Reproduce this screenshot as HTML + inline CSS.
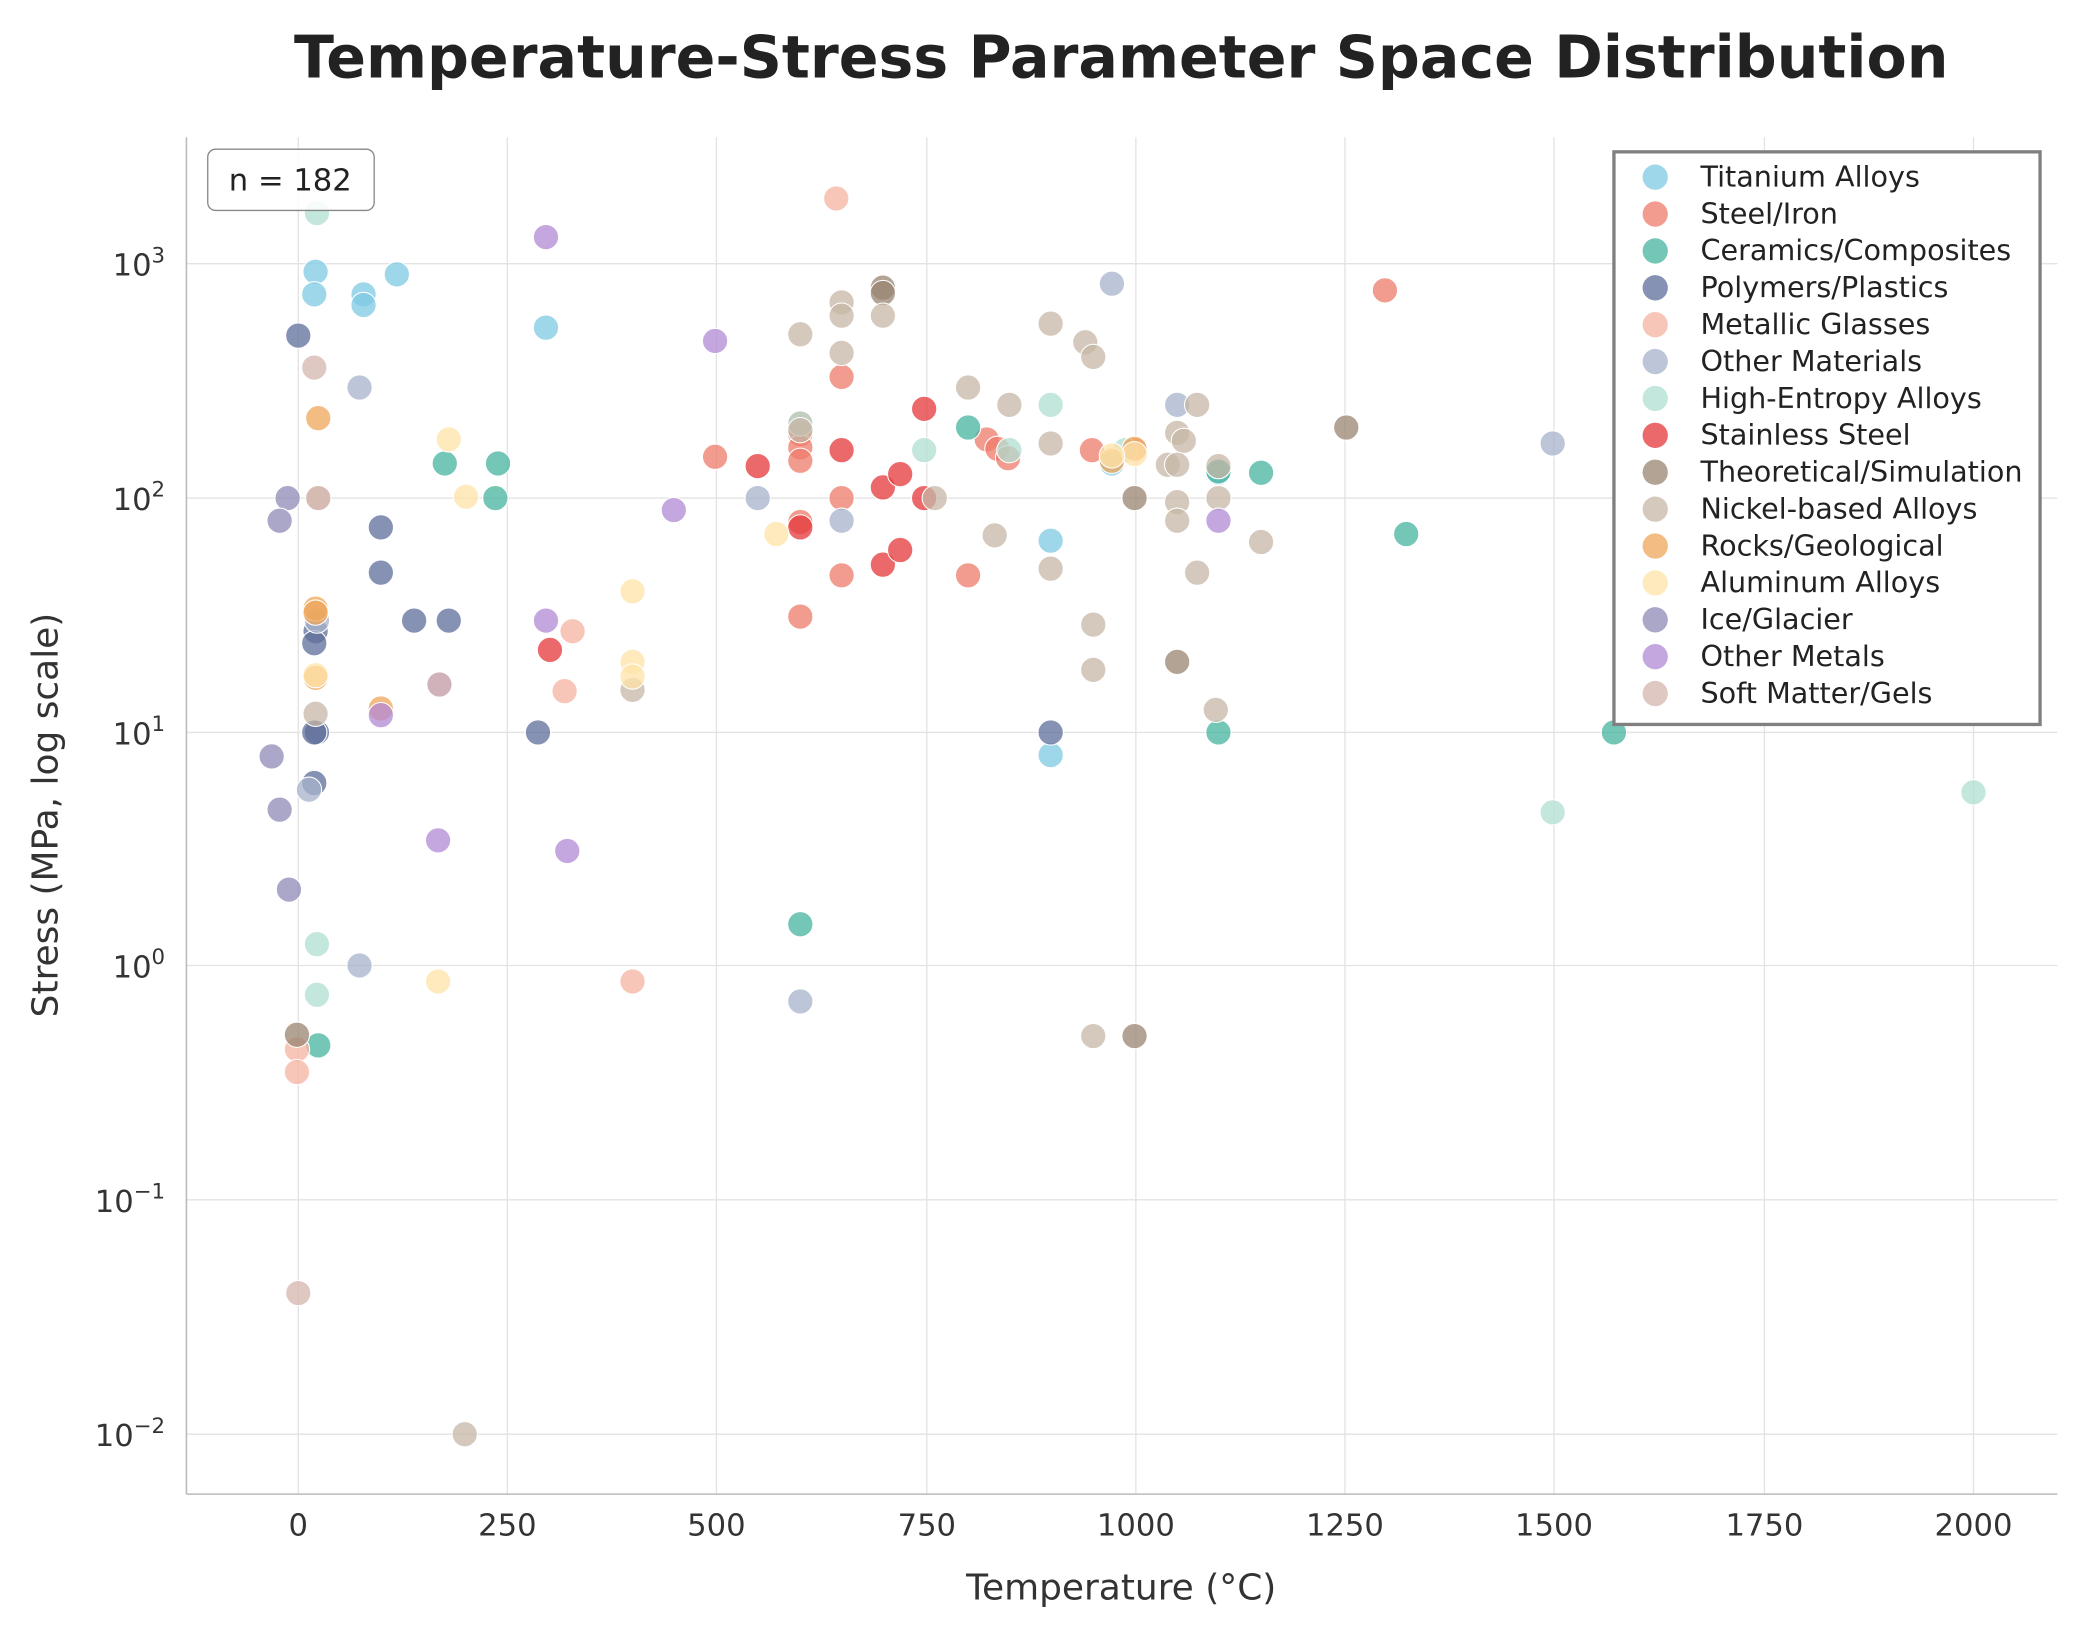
<!DOCTYPE html>
<html><head><meta charset="utf-8"><style>
html,body{margin:0;padding:0;background:#fff;}
svg{display:block;font-family:"DejaVu Sans","Liberation Sans",sans-serif;}
</style></head><body>
<svg id="s" width="2088" height="1638" viewBox="0 0 1568 1230" xmlns="http://www.w3.org/2000/svg">
<rect width="1568" height="1230" fill="#fff"/>
<g stroke="#e3e3e3" stroke-width="1">
<line x1="224" y1="103" x2="224" y2="1122"/><line x1="381" y1="103" x2="381" y2="1122"/><line x1="538" y1="103" x2="538" y2="1122"/><line x1="696" y1="103" x2="696" y2="1122"/><line x1="853" y1="103" x2="853" y2="1122"/><line x1="1010" y1="103" x2="1010" y2="1122"/><line x1="1167" y1="103" x2="1167" y2="1122"/><line x1="1325" y1="103" x2="1325" y2="1122"/><line x1="1482" y1="103" x2="1482" y2="1122"/>
<line x1="140" y1="198" x2="1545" y2="198"/><line x1="140" y1="374" x2="1545" y2="374"/><line x1="140" y1="550" x2="1545" y2="550"/><line x1="140" y1="725" x2="1545" y2="725"/><line x1="140" y1="901" x2="1545" y2="901"/><line x1="140" y1="1077" x2="1545" y2="1077"/>
</g>
<line x1="140" y1="103" x2="140" y2="1122" stroke="#bbb" stroke-width="1.2"/>
<line x1="140" y1="1122" x2="1545" y2="1122" stroke="#bbb" stroke-width="1.2"/>
<g id="pts"></g>
<text x="842" y="58" text-anchor="middle" font-size="44" font-weight="bold" fill="#222">Temperature-Stress Parameter Space Distribution</text>
<g font-size="23" fill="#333" text-anchor="middle">
<text x="224" y="1153">0</text><text x="381" y="1153">250</text><text x="538" y="1153">500</text><text x="696" y="1153">750</text><text x="853" y="1153">1000</text><text x="1010" y="1153">1250</text><text x="1167" y="1153">1500</text><text x="1325" y="1153">1750</text><text x="1482" y="1153">2000</text>
</g>
<g font-size="23" fill="#333" text-anchor="end">
<text x="124" y="207">10<tspan dy="-10" font-size="16">3</tspan></text>
<text x="124" y="383">10<tspan dy="-10" font-size="16">2</tspan></text>
<text x="124" y="559">10<tspan dy="-10" font-size="16">1</tspan></text>
<text x="124" y="734">10<tspan dy="-10" font-size="16">0</tspan></text>
<text x="124" y="910">10<tspan dy="-10" font-size="16">−1</tspan></text>
<text x="124" y="1086">10<tspan dy="-10" font-size="16">−2</tspan></text>
</g>
<text x="842" y="1201" text-anchor="middle" font-size="27" fill="#333">Temperature (°C)</text>
<text transform="translate(43,612) rotate(-90)" text-anchor="middle" font-size="27" fill="#333">Stress (MPa, log scale)</text>
<rect x="156" y="112" width="125" height="46" rx="6" fill="#fff" fill-opacity="0.85" stroke="#888"/>
<text x="218" y="143" text-anchor="middle" font-size="23" fill="#222">n = 182</text>
<rect x="1212" y="114" width="320" height="430" fill="#fff" stroke="#808080" stroke-width="2.5"/>
<g id="leg" font-size="21.5" fill="#222"></g>
</svg>
<script>
var C={ti:"#7ec8e3",st:"#ee7b6b",ce:"#45b39d",po:"#5d6e9a",mg:"#f5b3a0",om:"#a7b2cb",he:"#b0dfd2",ss:"#e4373a",th:"#9a8471",ni:"#c6b7a6",ro:"#eda55a",al:"#ffe3a8",ic:"#8e8ab5",me:"#b28ad6",so:"#d5b5ae"};
var names=[["ti","Titanium Alloys"],["st","Steel/Iron"],["ce","Ceramics/Composites"],["po","Polymers/Plastics"],["mg","Metallic Glasses"],["om","Other Materials"],["he","High-Entropy Alloys"],["ss","Stainless Steel"],["th","Theoretical/Simulation"],["ni","Nickel-based Alloys"],["ro","Rocks/Geological"],["al","Aluminum Alloys"],["ic","Ice/Glacier"],["me","Other Metals"],["so","Soft Matter/Gels"]];
var P={
ti:[[237,204],[236,221],[273,221],[273,229],[298,206],[410,246],[835,348],[789,406],[789,567],[915,355]],
st:[[1040,218],[632,283],[537,343],[601,326],[601,336],[601,346],[632,374],[601,392],[632,432],[601,463],[727,432],[741,330],[749,337],[757,344],[820,338],[852,338],[601,318]],
ce:[[334,348],[374,348],[372,374],[727,321],[915,354],[947,355],[1056,401],[915,550],[1212,550],[601,694],[239,785]],
po:[[224,252],[286,396],[286,430],[311,466],[337,466],[237,474],[236,483],[238,550],[236,550],[236,588],[404,550],[789,550]],
mg:[[628,149],[430,474],[424,519],[475,737],[223,788],[223,805]],
om:[[270,291],[835,213],[884,304],[1166,333],[569,374],[632,391],[270,725],[601,752],[232,593],[238,466]],
he:[[238,160],[789,304],[694,338],[601,318],[758,338],[845,338],[1166,610],[1482,595],[238,709],[238,747]],
ss:[[694,307],[632,338],[569,350],[663,366],[676,356],[694,374],[663,424],[676,413],[601,396],[413,488]],
th:[[663,216],[663,220],[1011,321],[852,374],[884,497],[223,777],[852,778]],
ni:[[632,227],[632,237],[663,237],[601,251],[632,265],[789,243],[815,257],[821,268],[727,291],[758,304],[899,304],[884,325],[889,331],[601,323],[789,333],[877,349],[884,349],[915,350],[702,374],[884,377],[915,374],[884,391],[747,402],[947,407],[899,430],[789,427],[475,518],[821,469],[821,503],[913,533],[237,536],[821,778],[349,1077],[239,374]],
ro:[[239,314],[237,457],[237,460],[237,509],[286,532],[852,337],[835,346]],
al:[[337,330],[350,373],[583,401],[475,444],[475,497],[475,508],[237,507],[329,737],[852,341],[835,342]],
ic:[[216,374],[210,391],[204,568],[210,608],[217,668]],
me:[[410,178],[537,256],[506,383],[410,466],[330,514],[286,537],[329,631],[426,639],[915,391]],
so:[[236,276],[239,374],[330,514],[224,971]]};
var ns="http://www.w3.org/2000/svg",g=document.getElementById("pts"),L=document.getElementById("leg");
names.forEach(function(n,i){
 P[n[0]].forEach(function(p){var c=document.createElementNS(ns,"circle");c.setAttribute("cx",p[0]);c.setAttribute("cy",p[1]);c.setAttribute("r",9.5);c.setAttribute("fill",C[n[0]]);c.setAttribute("fill-opacity","0.75");c.setAttribute("stroke","#fff");c.setAttribute("stroke-width","0.8");g.appendChild(c);});
 var y=133+i*27.7;
 var c=document.createElementNS(ns,"circle");c.setAttribute("cx",1243);c.setAttribute("cy",y);c.setAttribute("r",9.5);c.setAttribute("fill",C[n[0]]);c.setAttribute("fill-opacity","0.75");L.appendChild(c);
 var t=document.createElementNS(ns,"text");t.setAttribute("x",1277);t.setAttribute("y",y+7);t.textContent=n[1];L.appendChild(t);
});
</script>
</body></html>
